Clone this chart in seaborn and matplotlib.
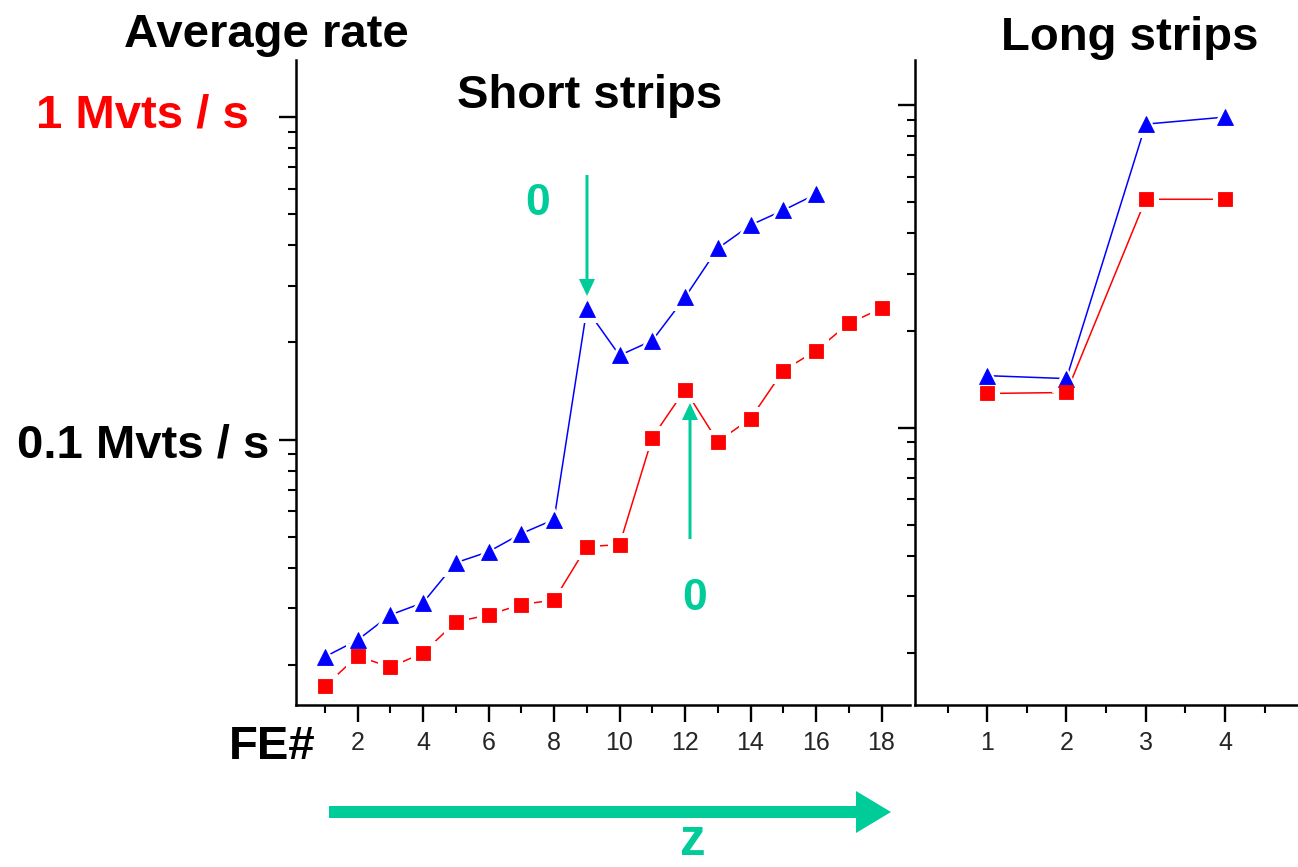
import matplotlib
matplotlib.use("Agg")
import matplotlib.pyplot as plt
import seaborn as sns
import pandas as pd
from matplotlib.patches import FancyArrow
from matplotlib.ticker import FixedLocator, LogLocator, NullFormatter
from matplotlib.transforms import IdentityTransform

# FE# along the short strips (left) and long strips (right), rate in Mvts/s
short_fe_blue = list(range(1, 17))
short_rate_blue = [0.0212, 0.0239, 0.0286, 0.0312, 0.0415, 0.0449, 0.0511, 0.0565,
                   0.2535, 0.1824, 0.2028, 0.2761, 0.3917, 0.4624, 0.5140, 0.5768]
short_fe_red = list(range(1, 19))
short_rate_red = [0.0172, 0.0213, 0.0197, 0.0218, 0.0272, 0.0286, 0.0308, 0.0318,
                  0.0466, 0.0472, 0.1014, 0.1429, 0.0986, 0.1161, 0.1637, 0.1888,
                  0.2291, 0.2553]
long_fe = [1, 2, 3, 4]
long_rate_blue = [0.1449, 0.1419, 0.873, 0.918]
long_rate_red = [0.1276, 0.1285, 0.5105, 0.5105]

short_ticks = [2, 4, 6, 8, 10, 12, 14, 16, 18]
long_ticks = [1, 2, 3, 4]

BLUE = "#0000ff"
RED = "#ff0000"
GREEN = "#00cc99"
W, H = 1298, 867

sns.set_style("ticks")
plt.rcParams["font.family"] = ["Liberation Sans", "DejaVu Sans"]

fig = plt.figure(figsize=(W / 100, H / 100), dpi=100)
ax1 = fig.add_axes([296 / W, (H - 705) / H, (910 - 296) / W, (705 - 60) / H])
ax2 = fig.add_axes([915 / W, (H - 705) / H, (1298 - 915) / W, (705 - 60) / H])


def draw_series(ax, x, y, color, marker, size):
    df = pd.DataFrame({"fe": x, "rate": y})
    sns.lineplot(data=df, x="fe", y="rate", ax=ax, color=color, lw=1.1,
                 zorder=2, legend=False)
    # white halo leaves the little gap between line and marker
    sns.lineplot(data=df, x="fe", y="rate", ax=ax, color="white", marker=marker,
                 markersize=size + 8, markeredgewidth=0, linestyle="none",
                 zorder=3, legend=False)
    sns.lineplot(data=df, x="fe", y="rate", ax=ax, color=color, marker=marker,
                 markersize=size, markeredgewidth=0.6, markeredgecolor=color,
                 linestyle="none", zorder=4, legend=False)


draw_series(ax1, short_fe_blue, short_rate_blue, BLUE, "^", 12)
draw_series(ax1, short_fe_red, short_rate_red, RED, "s", 10)
draw_series(ax2, long_fe, long_rate_blue, BLUE, "^", 12)
draw_series(ax2, long_fe, long_rate_red, RED, "s", 10)

ax1.set_xlim(0.12, 18.87)
ax1.set_ylim(0.01503, 1.503)
ax2.set_xlim(0.09, 4.92)
ax2.set_ylim(0.0138, 1.38)

for ax in (ax1, ax2):
    ax.set_yscale("log")
    ax.yaxis.set_major_locator(LogLocator(base=10))
    ax.yaxis.set_minor_locator(LogLocator(base=10, subs=range(2, 10)))
    ax.yaxis.set_major_formatter(NullFormatter())
    ax.yaxis.set_minor_formatter(NullFormatter())
    ax.set_xlabel("")
    ax.set_ylabel("")
    sns.despine(ax=ax)
    for side in ("left", "bottom"):
        ax.spines[side].set_linewidth(1.8)
        ax.spines[side].set_color("black")
    ax.tick_params(which="major", length=12, width=1.7, color="black",
                   labelsize=18, pad=7)
    ax.tick_params(which="minor", length=6, width=1.5, color="black")

ax1.xaxis.set_major_locator(FixedLocator(short_ticks))
ax1.xaxis.set_minor_locator(FixedLocator([t - 1 for t in short_ticks]))
ax1.set_xticklabels([str(t) for t in short_ticks])
ax2.xaxis.set_major_locator(FixedLocator(long_ticks))
ax2.xaxis.set_minor_locator(FixedLocator([t - 0.5 for t in long_ticks] + [4.5]))
ax2.set_xticklabels([str(t) for t in long_ticks])


def label(x, y, s, color="black", size=34):
    fig.text(x / W, 1 - y / H, s, ha="center", va="baseline", fontsize=size,
             fontweight="bold", color=color)


label(266, 47, "Average rate")
label(142, 127, "1 Mvts / s", color=RED)
label(143, 457, "0.1 Mvts / s")
label(590, 108, "Short strips")
label(1130, 50, "Long strips")
label(272, 759, "FE#")
label(538, 215, "0", color=GREEN, size=32)
label(695, 610, "0", color=GREEN, size=32)
label(693, 855, "z", color=GREEN, size=37)

# arrows in pixel coordinates (origin bottom left)
arrows = [
    FancyArrow(329, H - 812, 891 - 329, 0, width=12, head_width=42,
               head_length=35, length_includes_head=True),
    FancyArrow(587, H - 175, 0, -(296 - 175), width=3, head_width=16,
               head_length=17, length_includes_head=True),
    FancyArrow(690, H - 539, 0, 539 - 403, width=3, head_width=16,
               head_length=17, length_includes_head=True),
]
for arrow in arrows:
    arrow.set_color(GREEN)
    arrow.set_linewidth(0)
    arrow.set_transform(IdentityTransform())
    fig.add_artist(arrow)

fig.savefig("out.png", dpi=100)
